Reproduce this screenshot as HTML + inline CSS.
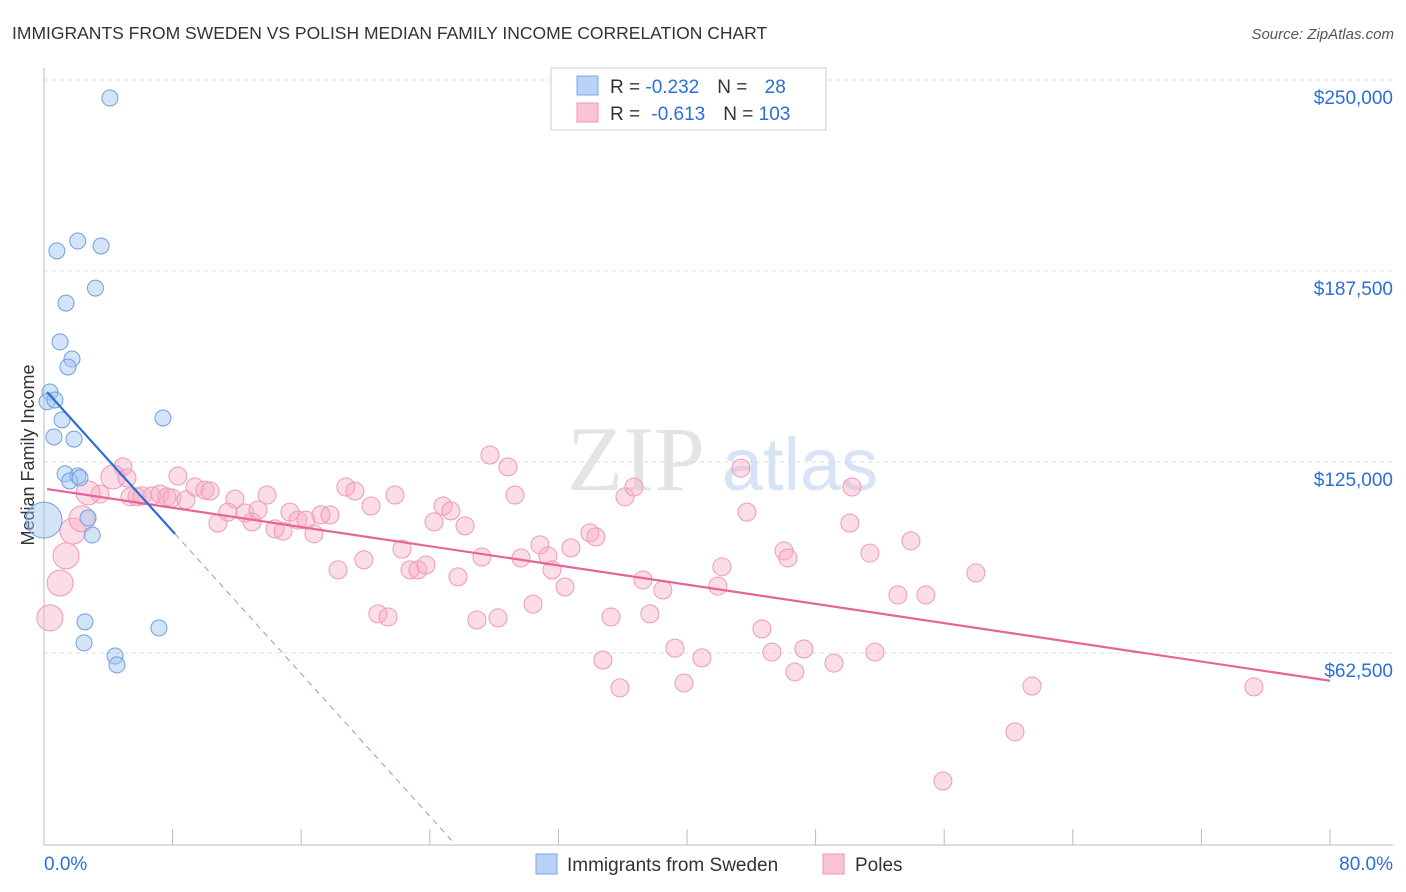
<!DOCTYPE html>
<html><head><meta charset="utf-8">
<style>
body{margin:0;background:#fff;font-family:"Liberation Sans",sans-serif;}
#wrap{position:relative;width:1406px;height:892px;overflow:hidden;}
</style></head>
<body>
<div id="wrap">
<svg id="svg" width="1406" height="892" xmlns="http://www.w3.org/2000/svg">
<text x="12" y="39" font-size="17.5" fill="#333">IMMIGRANTS FROM SWEDEN VS POLISH MEDIAN FAMILY INCOME CORRELATION CHART</text>
<text x="1394" y="39" font-size="15" fill="#555" font-style="italic" text-anchor="end">Source: ZipAtlas.com</text>
<text x="34" y="455" font-size="18" fill="#333" text-anchor="middle" transform="rotate(-90 34 455)">Median Family Income</text>
<g>
<text x="636" y="490" font-size="92" fill="#e4e4e4" font-family="Liberation Serif,serif" text-anchor="middle">ZIP</text>
<text x="800" y="490" font-size="74" fill="#d6e4f5" text-anchor="middle">atlas</text>
</g>
<g id="grid"></g>
<g id="axes"></g>
<g id="marks"></g>
<g>
<rect x="551" y="68" width="275" height="62" fill="#fff" stroke="#ccc"/>
<rect x="577" y="76" width="21" height="19" fill="#b8d3f5" stroke="#7aa8e6"/>
<rect x="577" y="103" width="21" height="19" fill="#fbc4d4" stroke="#eb96b3"/>
<text x="610" y="93" font-size="19" fill="#333">R = <tspan fill="#2a6fd8">-0.232</tspan><tspan dx="18">N = </tspan><tspan fill="#2a6fd8" dx="12">28</tspan></text>
<text x="610" y="120" font-size="19" fill="#333">R = <tspan fill="#2a6fd8" dx="6">-0.613</tspan><tspan dx="18">N = </tspan><tspan fill="#2a6fd8">103</tspan></text>
</g>
<g>
<rect x="536" y="854" width="21" height="20" fill="#b8d3f5" stroke="#7aa8e6"/>
<text x="567" y="871" font-size="19" fill="#333">Immigrants from Sweden</text>
<rect x="823" y="854" width="21" height="20" fill="#fbc4d4" stroke="#eb96b3"/>
<text x="855" y="871" font-size="19" fill="#333">Poles</text>
</g>
</svg>
</div>
<script>
const yTicks=[62500,125000,187500,250000];
const yTickLabels=["$62,500","$125,000","$187,500","$250,000"];
const xTicks=[0,8,16,24,32,40,48,56,64,72,80];
const xEndLabels=["0.0%","80.0%"];
const swedenX=[4.1,0.8,2.1,3.55,3.2,1.37,1.0,1.74,1.49,0.37,0.19,0.68,1.12,0.62,1.87,7.4,1.31,2.1,1.6,2.24,2.74,3.0,0.0,2.55,7.15,2.49,4.42,4.54];
const swedenY=[244.1,194.1,197.3,195.7,181.9,177.0,164.3,158.7,156.1,147.9,144.7,145.3,138.8,133.2,132.5,139.4,121.1,120.4,118.8,119.8,106.7,101.1,106.0,72.7,70.7,65.8,61.5,58.6];
const swedenR=[8,8,8,8,8,8,8,8,8,8,8,8,8,8,8,8,8,8,8,8,8,8,18,8,8,8,8,8];
const polesX=[4.91,4.29,5.16,3.48,5.35,5.78,6.10,6.72,7.22,7.65,7.96,8.83,8.33,9.39,10.01,10.33,11.88,13.87,10.82,11.44,12.50,12.94,13.31,14.37,14.87,15.30,15.80,16.30,16.79,17.23,17.79,18.29,18.78,19.34,19.90,20.34,20.77,21.40,21.83,22.27,22.77,23.26,23.76,24.26,24.82,25.31,25.75,26.19,26.93,27.24,27.74,28.24,28.86,29.30,29.67,30.42,30.85,31.35,31.60,32.41,32.78,33.96,34.33,34.77,35.27,35.83,36.14,36.70,37.26,37.69,38.50,39.25,39.81,40.93,41.92,42.17,43.35,43.73,44.66,45.28,46.03,46.28,46.71,47.27,49.14,50.13,50.26,51.38,51.69,53.12,53.93,54.86,55.92,57.97,60.40,61.46,75.27,0.37,1.0,1.37,1.80,2.36,2.74];
const polesY=[123.4,120.1,119.8,114.5,113.6,113.6,113.9,113.9,114.5,113.6,113.2,112.6,120.4,116.8,115.8,115.5,112.9,114.2,105.0,108.6,108.3,105.4,109.3,103.1,102.4,108.6,106.0,106.0,101.5,107.7,107.7,89.7,116.8,115.5,93.0,110.6,75.3,74.3,114.2,96.5,89.7,89.7,91.3,105.4,110.6,109.0,87.4,104.1,73.3,93.9,127.3,74.0,123.4,114.2,93.6,78.5,97.9,94.3,89.7,84.1,96.9,101.8,100.5,60.2,74.3,51.1,113.6,116.8,86.4,75.3,83.1,64.1,52.7,60.9,84.4,90.7,123.0,108.6,70.4,62.8,95.9,93.6,56.3,63.8,59.2,105.0,116.8,95.2,62.8,81.5,99.2,81.5,20.6,88.7,36.7,51.7,51.4,74.0,85.4,94.3,102.4,106.4,114.9];
const polesR=[9,12,9,9,9,9,9,9,9,9,9,9,9,9,9,9,9,9,9,9,9,9,9,9,9,9,9,9,9,9,9,9,9,9,9,9,9,9,9,9,9,9,9,9,9,9,9,9,9,9,9,9,9,9,9,9,9,9,9,9,9,9,9,9,9,9,9,9,9,9,9,9,9,9,9,9,9,9,9,9,9,9,9,9,9,9,9,9,9,9,9,9,9,9,9,9,9,13,13,13,13,13,12];
const swedenTrend=[149.0,-5.83];
const polesTrend=[116.3,-0.786];

const NS="http://www.w3.org/2000/svg";
function xs(p){return 44+p/80*1286;}
function ys(k){return 844-k*1000/62500*191;}
function mk(tag,attrs,parent){const e=document.createElementNS(NS,tag);for(const a in attrs)e.setAttribute(a,attrs[a]);parent.appendChild(e);return e;}
const grid=document.getElementById('grid'),axes=document.getElementById('axes'),marks=document.getElementById('marks');
yTicks.forEach((v,i)=>{
 const y=ys(v/1000);
 const l=mk('line',{x1:44,x2:1393,y1:y,y2:y,stroke:'#ddd','stroke-dasharray':'4,4'},grid);
 
 
 const t=mk('text',{x:1393,y:y+24,'font-size':19,fill:'#2a6fd8','text-anchor':'end'},axes);
 t.textContent=yTickLabels[i];
 
 
});
const ax=mk('line',{x1:44,x2:44,y1:68,y2:845,stroke:'#bbb'},axes);


const bx=mk('line',{x1:44,x2:1393,y1:845,y2:845,stroke:'#bbb'},axes);


xTicks.forEach(p=>{
 const tk=mk('line',{x1:xs(p),x2:xs(p),y1:829,y2:845,stroke:'#bbb'},axes);
 
 
});
const xl0=mk('text',{x:44,y:870,'font-size':19,fill:'#2a6fd8'},axes);
xl0.textContent=xEndLabels[0];


const xl1=mk('text',{x:1393,y:870,'font-size':19,fill:'#2a6fd8','text-anchor':'end'},axes);
xl1.textContent=xEndLabels[1];



polesX.forEach((x,i)=>{
 const c=mk('circle',{cx:xs(x),cy:ys(polesY[i]),r:polesR[i],fill:'rgba(247,170,196,0.4)',stroke:'#ec9ab6','stroke-width':1},marks);
 
 
});
swedenX.forEach((x,i)=>{
 const c=mk('circle',{cx:xs(x),cy:ys(swedenY[i]),r:swedenR[i],fill:'rgba(160,196,240,0.45)',stroke:'#6f9fe0','stroke-width':1},marks);
 
 
});
// trend lines
const px0=0.19,px1=80;
const pl=mk('line',{x1:xs(px0),y1:ys(polesTrend[0]+polesTrend[1]*px0),x2:xs(px1),y2:ys(polesTrend[0]+polesTrend[1]*px1),stroke:'#e8639a','stroke-width':2.2},marks);


const sx1=8.15,sx2=-swedenTrend[0]/swedenTrend[1];
const sl=mk('line',{x1:xs(px0),y1:ys(swedenTrend[0]+swedenTrend[1]*px0),x2:xs(sx1),y2:ys(swedenTrend[0]+swedenTrend[1]*sx1),stroke:'#2a6fd8','stroke-width':2.2},marks);


const sd=mk('line',{x1:xs(sx1),y1:ys(swedenTrend[0]+swedenTrend[1]*sx1),x2:xs(sx2),y2:ys(0),stroke:'#7aa3dc','stroke-width':1,'stroke-dasharray':'6,5'},marks);


</script>
</body></html>
